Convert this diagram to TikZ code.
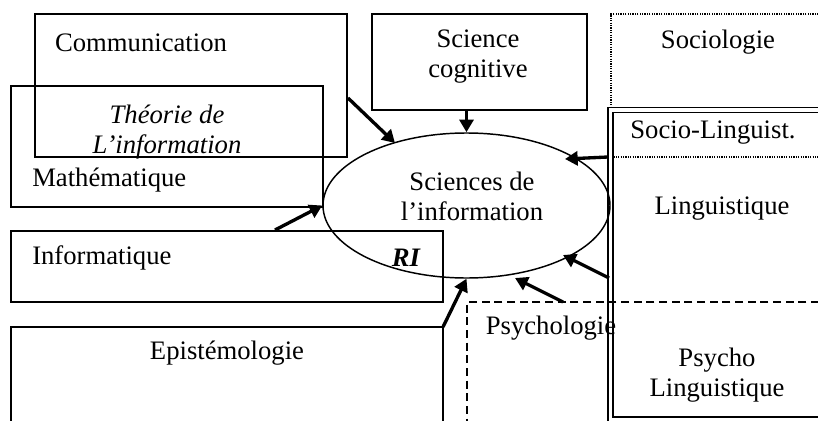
\documentclass[tikz,border=0pt]{standalone}
\usepackage{fontspec}
\setmainfont{Liberation Serif}
\usetikzlibrary{arrows.meta,fit,shapes.geometric}
\begin{document}
\begin{tikzpicture}[x=0.75pt,y=-0.75pt,
  every node/.style={font=\fontsize{20}{22.5}\selectfont, inner sep=0pt},
  box/.style={draw, line width=1pt, inner sep=0pt},
  dotbox/.style={draw, line width=0.9pt, dash pattern=on 0.9pt off 0.9pt, inner sep=0pt},
  dashbox/.style={draw, line width=1pt, dash pattern=on 6pt off 3.5pt, inner sep=0pt},
  lbl/.style={align=center},
  arr/.style={line width=2.5pt, -{Triangle[length=9.5pt,width=10.5pt]}}]
\useasboundingbox (0,0) rectangle (818,421);
\fill[white] (0,0) rectangle (818,421);
\clip (0,0) rectangle (818,421);

% fields around the centre
\node[box, fit={(35,14)(347,157)}] (com) {};
\node[box, fit={(11,86)(323,207)}] (math) {};
\node[box, fit={(372,14)(587,110)}] (sc) {};
\node[dotbox, fit={(611,14)(840,157)}] (soc) {};
\draw[line width=1pt, double, double distance=2.6pt] (610.5,110) rectangle (840,419.5);
\node[fit={(610.5,110)(840,419.5)}] (ling) {};
\node[box, fit={(11,231)(443,302)}] (info) {};
\node[box, fit={(11,327)(443,440)}] (epi) {};
\node[dashbox, fit={(467,302)(840,440)}] (psy) {};

% information science
\node[ellipse, draw, line width=1.1pt, minimum width=215.25pt, minimum height=108.75pt] (ell) at (466.5,205.5) {};

% labels
\node (tcom) at (141,43) {Communication};
\node[lbl, font=\fontsize{20}{22.5}\selectfont\itshape] (tthe) at (167,132) {Théorie de\\L’information};
\node[anchor=west] (tmath) at (32,180) {Mathématique};
\node[lbl] (tsc) at (478,57) {Science\\cognitive};
\node (tsoc) at (718,42) {Sociologie};
\node (tsl) at (713,133) {Socio-Linguist.};
\node (tling) at (722,209) {Linguistique};
\node[lbl] (tell) at (472,196) {Sciences de\\l’information};
\node[anchor=west] (tinfo) at (32,258) {Informatique};
\node[font=\fontsize{20}{22.5}\selectfont\bfseries\itshape] (tri) at (406,258) {RI};
\node (tepi) at (227,353) {Epistémologie};
\node (tpsy) at (551,328) {Psychologie};
\node[lbl] (tpl) at (717,375) {Psycho\\Linguistique};

% connector end points
\coordinate (s1) at (348,98);   \coordinate (e1) at (395,143);
\coordinate (s2) at (275,230);
\coordinate (s4) at (608,157);  \coordinate (e4) at (565,159);
\coordinate (s5) at (609,278);  \coordinate (e5) at (563,255);
\coordinate (s6) at (563,302);  \coordinate (e6) at (515,278);
\coordinate (s7) at (443,327);

% connectors
\draw[arr] (s1) -- (e1);
\draw[arr] (s2) -- (ell.west);
\draw[arr] (ell.north |- sc.south) -- (ell.north);
\draw[arr] (s4) -- (e4);
\draw[arr] (s5) -- (e5);
\draw[arr] (s6) -- (e6);
\draw[arr] (s7) -- (ell.south);
\end{tikzpicture}
\end{document}
